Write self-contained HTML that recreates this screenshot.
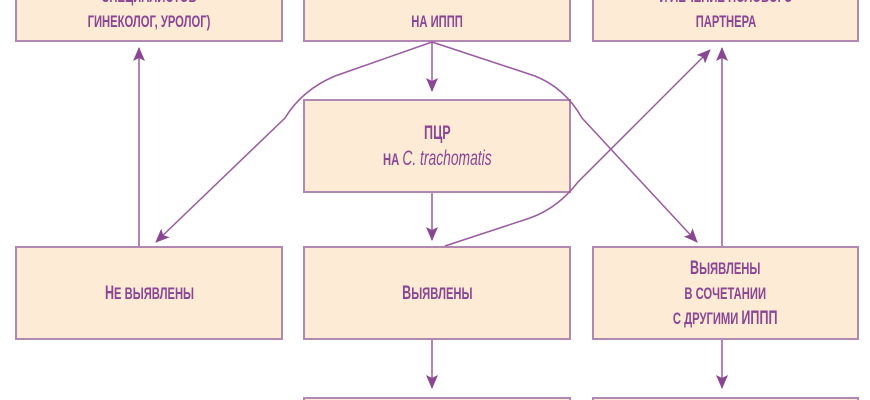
<!DOCTYPE html>
<html><head><meta charset="utf-8"><style>
html,body{margin:0;padding:0;background:#fff;width:870px;height:400px;overflow:hidden;position:relative}
.b{position:absolute;background:#fdebd6;border:2px solid #b088b2;box-sizing:border-box;color:#8a4692;font-family:"Liberation Sans",sans-serif;font-weight:bold;font-size:17px;text-transform:uppercase;text-align:center;display:flex;flex-direction:column;justify-content:center;align-items:center;line-height:25px}
.t{display:inline-block;transform:scaleX(0.66);white-space:nowrap}
.c{font-size:19px}
svg{position:absolute;left:0;top:0}
i{text-transform:none;font-weight:normal;font-size:21px}
</style></head><body>
<div class="b" style="left:15px;top:-52px;width:268px;height:94px;justify-content:flex-end;padding-bottom:6px"><span class="t">специалистов<br>гинеколог, уролог)</span></div>
<div class="b" style="left:303px;top:-52px;width:268px;height:94px;justify-content:flex-end;padding-bottom:6px"><span class="t">на ИППП</span></div>
<div class="b" style="left:592px;top:-52px;width:267px;height:94px;justify-content:flex-end;padding-bottom:6px"><span class="t">и лечение полового<br>партнера</span></div>
<div class="b" style="left:303px;top:99px;width:268px;height:94px"><span class="t"><span class="c">ПЦР</span><br>на <i>C. trachomatis</i></span></div>
<div class="b" style="left:15px;top:246px;width:268px;height:94px"><span class="t"><span class="c">Н</span>е выявлены</span></div>
<div class="b" style="left:303px;top:246px;width:268px;height:94px"><span class="t"><span class="c">В</span>ыявлены</span></div>
<div class="b" style="left:592px;top:246px;width:267px;height:94px"><span class="t"><span class="c">В</span>ыявлены<br>в сочетании<br>с другими <span class="c">ИППП</span></span></div>
<div class="b" style="left:303px;top:397px;width:268px;height:20px"></div>
<div class="b" style="left:592px;top:397px;width:267px;height:20px"></div>
<svg width="870" height="400" viewBox="0 0 870 400">
<defs><marker id="a" markerWidth="14" markerHeight="12" refX="13" refY="6" orient="auto" markerUnits="userSpaceOnUse"><path d="M0,0 L14,6 L0,12 L3,6 Z" fill="#8a4692"/></marker></defs>
<g stroke="#9a5aa0" stroke-width="1.5" fill="none">
<path d="M432,42 L432,91" marker-end="url(#a)"/>
<path d="M432,193 L432,240" marker-end="url(#a)"/>
<path d="M432,340 L432,388" marker-end="url(#a)"/>
<path d="M722,340 L722,388" marker-end="url(#a)"/>
<path d="M139,246 L139,48" marker-end="url(#a)"/>
<path d="M722,246 L722,48" marker-end="url(#a)"/>
<path d="M432,42 L335,76 Q302,90 285,118 L156,242" marker-end="url(#a)"/>
<path d="M432,42 L535,76 Q565,88 582,118 L697,242" marker-end="url(#a)"/>
<path d="M445,246 L530,218 Q558,208 578,182 L710,50" marker-end="url(#a)"/>
</g></svg>
</body></html>
